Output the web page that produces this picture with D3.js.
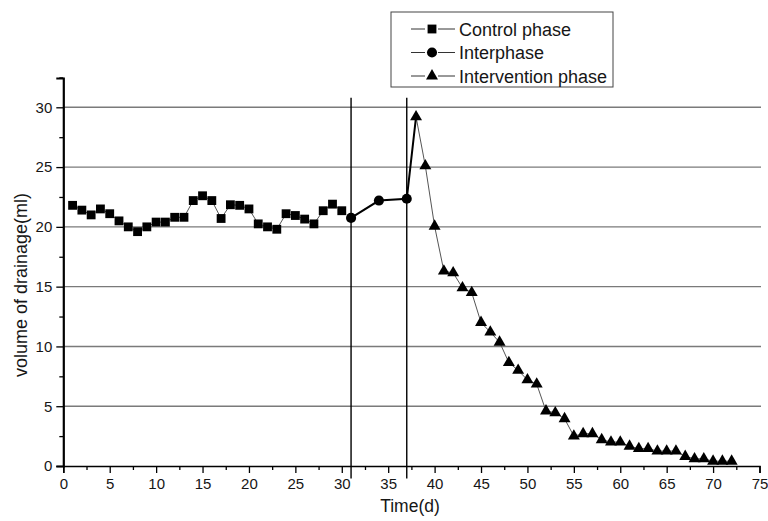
<!DOCTYPE html>
<html lang="en">
<head>
    <meta charset="UTF-8">
    <title>Volume of drainage</title>
    <script src="https://cdnjs.cloudflare.com/ajax/libs/d3/7.8.5/d3.min.js"></script>
    <style>
        body {
            margin: 0;
            padding: 0;
            background: #fff;
        }
        svg text {
            font-family: "Liberation Sans", Arial, sans-serif;
            fill: #161616;
        }
    </style>
</head>
<body>
    <div id="chart"></div>

    <script>
        // Control phase (squares)
        const controlDays = [1, 2, 3, 4, 5, 6, 7, 8, 9, 10, 11, 12, 13, 14, 15,
                             16, 17, 18, 19, 20, 21, 22, 23, 24, 25, 26, 27, 28, 29, 30];
        const controlVals = [21.8, 21.4, 21.0, 21.5, 21.1, 20.5, 20.0, 19.6, 20.0, 20.4, 20.4, 20.8, 20.8, 22.2, 22.6,
                             22.2, 20.7, 21.85, 21.8, 21.5, 20.25, 20.0, 19.8, 21.1, 20.95, 20.65, 20.25, 21.35, 21.9, 21.35];

        // Interphase (circles)
        const interDays = [31, 34, 37];
        const interVals = [20.75, 22.2, 22.35];

        // Intervention phase (triangles)
        const intervDays = [38, 39, 40, 41, 42, 43, 44, 45, 46, 47, 48, 49, 50, 51, 52, 53, 54,
                            55, 56, 57, 58, 59, 60, 61, 62, 63, 64, 65, 66, 67, 68, 69, 70, 71, 72];
        const intervVals = [29.2, 25.1, 20.05, 16.3, 16.15, 14.9, 14.5, 12.0, 11.2, 10.35, 8.65, 8.0, 7.2, 6.85, 4.6, 4.45, 3.95,
                            2.5, 2.7, 2.7, 2.2, 2.0, 2.0, 1.65, 1.45, 1.45, 1.25, 1.25, 1.25, 0.8, 0.6, 0.6, 0.4, 0.4, 0.4];

        const phaseBounds = [31, 37];
        const xTicks = [0, 5, 10, 15, 20, 25, 30, 35, 40, 45, 50, 55, 60, 65, 70, 75];
        const yTicks = [0, 5, 10, 15, 20, 25, 30];
        const legendNames = ['Control phase', 'Interphase', 'Intervention phase'];

        const width = 768, height = 521;
        const svg = d3.select('#chart').append('svg')
            .attr('width', width)
            .attr('height', height);

        const x = d3.scaleLinear().domain([0, 75]).range([63.3, 759.5]);
        const y = d3.scaleLinear().domain([0, 32.45]).range([466, 78]);

        // horizontal grid
        svg.append('g')
            .selectAll('line')
            .data(yTicks.slice(1))
            .join('line')
            .attr('x1', x(0)).attr('x2', 761)
            .attr('y1', d => y(d)).attr('y2', d => y(d))
            .attr('stroke', '#7a7a7a')
            .attr('stroke-width', 1.4);

        // phase separators
        svg.append('g')
            .selectAll('line')
            .data(phaseBounds)
            .join('line')
            .attr('x1', d => x(d)).attr('x2', d => x(d))
            .attr('y1', y(30.8)).attr('y2', y(-1.05))
            .attr('stroke', '#000')
            .attr('stroke-width', 1.4);

        // minor ticks
        const xMinor = xTicks.slice(0, -1).map(d => d + 2.5);
        const yMinor = yTicks.map(d => d + 2.5);

        svg.append('g')
            .attr('transform', `translate(0,${y(0)})`)
            .call(d3.axisBottom(x).tickValues(xMinor).tickSize(4).tickSizeOuter(0).tickFormat(''))
            .call(g => g.select('.domain').remove());

        svg.append('g')
            .attr('transform', `translate(${x(0)},0)`)
            .call(d3.axisLeft(y).tickValues(yMinor).tickSize(4).tickSizeOuter(0).tickFormat(''))
            .call(g => g.select('.domain').remove());

        // main axes
        const xAxis = svg.append('g')
            .attr('transform', `translate(0,${y(0)})`)
            .call(d3.axisBottom(x).tickValues(xTicks).tickSize(7).tickSizeOuter(7).tickPadding(5));
        xAxis.select('.domain').attr('stroke-width', 1.6);
        xAxis.selectAll('text').attr('font-size', 15);

        const yAxis = svg.append('g')
            .attr('transform', `translate(${x(0)},0)`)
            .call(d3.axisLeft(y).tickValues(yTicks).tickSize(7).tickSizeOuter(7).tickPadding(4));
        yAxis.select('.domain').attr('stroke-width', 2.2);
        yAxis.selectAll('text').attr('font-size', 15);

        svg.selectAll('.tick line').attr('stroke-width', 1.3);

        // axis titles
        svg.append('text')
            .attr('x', 410).attr('y', 512)
            .attr('text-anchor', 'middle')
            .attr('font-size', 17.5)
            .text('Time(d)');

        svg.append('text')
            .attr('transform', 'translate(27,285) rotate(-90)')
            .attr('text-anchor', 'middle')
            .attr('font-size', 18)
            .text('volume of drainage(ml)');

        // lines
        const line = d3.line().x(d => x(d[0])).y(d => y(d[1]));
        const control = d3.zip(controlDays, controlVals);
        const inter = d3.zip(interDays, interVals);
        const interv = d3.zip(intervDays, intervVals);

        svg.append('path')
            .attr('d', line(control))
            .attr('fill', 'none').attr('stroke', '#555').attr('stroke-width', 1);

        svg.append('path')
            .attr('d', line(interv))
            .attr('fill', 'none').attr('stroke', '#555').attr('stroke-width', 1);

        svg.append('path')
            .attr('d', line(inter.concat([interv[0]])))
            .attr('fill', 'none').attr('stroke', '#000').attr('stroke-width', 2);

        // markers
        const sq = d3.symbol().type(d3.symbolSquare).size(78);
        const ci = d3.symbol().type(d3.symbolCircle).size(80);
        const tri = d3.symbol().type(d3.symbolTriangle).size(62);

        svg.append('g').selectAll('path')
            .data(control).join('path')
            .attr('transform', d => `translate(${x(d[0])},${y(d[1])})`)
            .attr('d', sq).attr('fill', '#000');

        svg.append('g').selectAll('path')
            .data(inter).join('path')
            .attr('transform', d => `translate(${x(d[0])},${y(d[1])})`)
            .attr('d', ci).attr('fill', '#000');

        svg.append('g').selectAll('path')
            .data(interv).join('path')
            .attr('transform', d => `translate(${x(d[0])},${y(d[1])})`)
            .attr('d', tri).attr('fill', '#000');

        // legend
        const legend = svg.append('g');
        legend.append('rect')
            .attr('x', 391).attr('y', 12)
            .attr('width', 222).attr('height', 75)
            .attr('fill', '#fff').attr('stroke', '#444').attr('stroke-width', 1);

        const symbols = [sq, ci, tri];
        legendNames.forEach((name, i) => {
            const cy = 29 + i * 23.5;
            [[411, 425], [438, 455]].forEach(seg => {
                legend.append('line')
                    .attr('x1', seg[0]).attr('x2', seg[1])
                    .attr('y1', cy).attr('y2', cy)
                    .attr('stroke', '#333').attr('stroke-width', 1);
            });
            legend.append('path')
                .attr('transform', `translate(432,${cy})`)
                .attr('d', symbols[i]).attr('fill', '#000');
            legend.append('text')
                .attr('x', 459).attr('y', cy + 6.5)
                .attr('font-size', 18)
                .text(name);
        });
    </script>
</body>
</html>
